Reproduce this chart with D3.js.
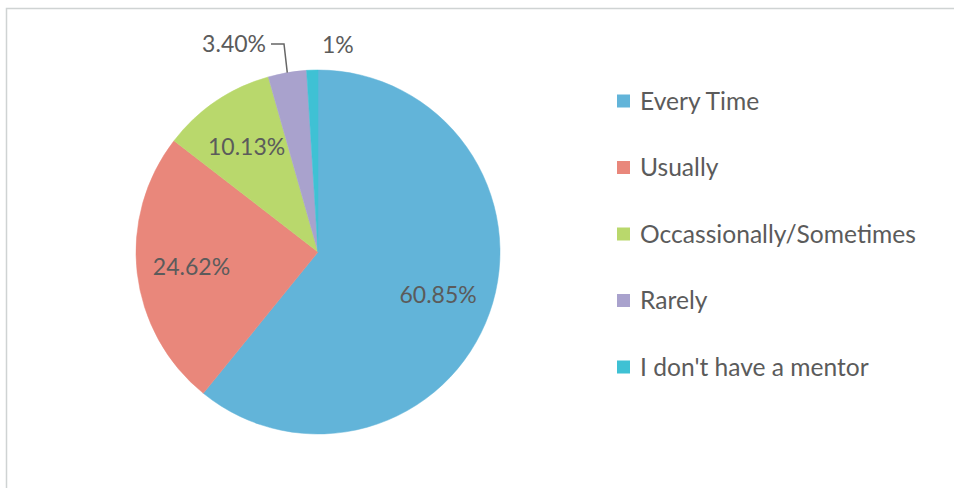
<!DOCTYPE html>
<html>
<head>
<meta charset="utf-8">
<script src="https://cdnjs.cloudflare.com/ajax/libs/d3/7.8.5/d3.min.js"></script>
<style>
  body { margin: 0; background: #fff; }
  svg { display: block; }
  text { font-family: Lato, "Open Sans", sans-serif; fill: #5b5b5b; }
</style>
</head>
<body>
<div id="chart"></div>
<script>
// chart data
var categories = ["Every Time", "Usually", "Occassionally/Sometimes", "Rarely", "I don't have a mentor"];
var values = [60.85, 24.62, 10.13, 3.40, 1];
var labels = ["60.85%", "24.62%", "10.13%", "3.40%", "1%"];
var colors = ["#62b4d9", "#e9877b", "#b9d86c", "#a9a2cd", "#3fc1d4"];

var svgWidth = 954;
var svgHeight = 488;

var svg = d3.select("#chart")
  .append("svg")
  .attr("width", svgWidth)
  .attr("height", svgHeight);

// frame of the chart area
svg.append("path")
  .attr("d", "M6.5,488 L6.5,8.5 L954,8.5")
  .attr("fill", "none")
  .attr("stroke", "#cfd3d3")
  .attr("stroke-width", 1.5);

var cx = 318, cy = 252, radius = 182;

var pieData = d3.pie()
  .sort(null)
  .value(d => d.value)(values.map((v, i) => ({ value: v, name: categories[i], label: labels[i], color: colors[i] })));

var arc = d3.arc().innerRadius(0).outerRadius(radius);
var labelArc = d3.arc().innerRadius(radius * 0.7).outerRadius(radius * 0.7);

var pieGroup = svg.append("g")
  .attr("transform", `translate(${cx}, ${cy})`);

pieGroup.selectAll(".slice")
  .data(pieData)
  .enter()
  .append("path")
  .attr("class", "slice")
  .attr("d", arc)
  .attr("fill", d => d.data.color)
  .attr("stroke", d => d.data.color)
  .attr("stroke-width", 0.5);

// labels inside the big slices
pieGroup.selectAll(".inlabel")
  .data(pieData.slice(0, 3))
  .enter()
  .append("text")
  .attr("class", "inlabel")
  .attr("transform", d => `translate(${labelArc.centroid(d)})`)
  .attr("text-anchor", "middle")
  .attr("dy", "0.35em")
  .style("font-size", "23px")
  .text(d => d.data.label);

// small slices: labels outside, above the pie
var outPos = [[-52, -208, "end"], [4, -207, "start"]];
pieData.slice(3).forEach(function(d, i) {
  var p = outPos[i];
  pieGroup.append("text")
    .attr("x", p[0])
    .attr("y", p[1])
    .attr("text-anchor", p[2])
    .attr("dy", "0.35em")
    .style("font-size", "23px")
    .text(d.data.label);
});

// leader line for the Rarely label
var rarely = pieData[3];
var mid = (rarely.startAngle + rarely.endAngle) / 2;
var edge = [Math.sin(mid) * radius, -Math.cos(mid) * radius];
pieGroup.append("polyline")
  .attr("points", [[-47, -208], [-34, -208], edge].join(" "))
  .attr("fill", "none")
  .attr("stroke", "#666")
  .attr("stroke-width", 1.5);

// legend
var legend = svg.append("g")
  .attr("transform", "translate(617, 101)");

var rows = legend.selectAll(".row")
  .data(categories)
  .enter()
  .append("g")
  .attr("class", "row")
  .attr("transform", (d, i) => `translate(0, ${i * 66.5})`);

rows.append("rect")
  .attr("x", 0)
  .attr("y", -6.5)
  .attr("width", 13)
  .attr("height", 13)
  .attr("fill", (d, i) => colors[i]);

rows.append("text")
  .attr("x", 23)
  .attr("dy", "0.35em")
  .style("font-size", "24.6px")
  .text(d => d);
</script>
</body>
</html>
